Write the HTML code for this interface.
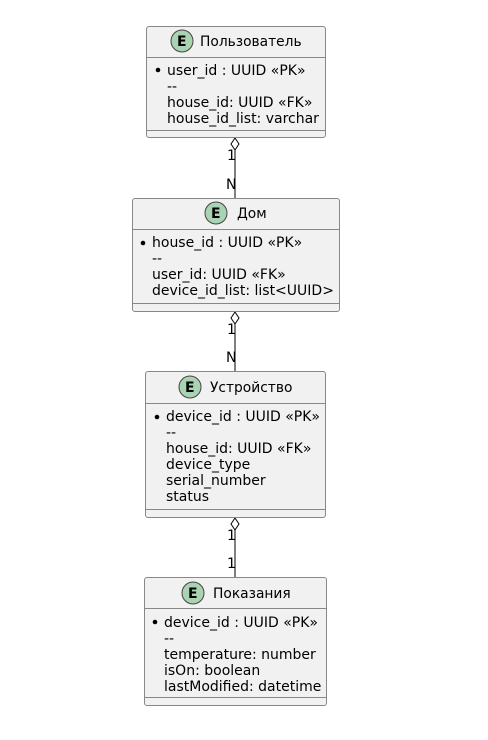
<!DOCTYPE html>
<html><head><meta charset="utf-8"><style>
html,body{margin:0;padding:0;background:#fff;}
svg{display:block;}
text{font-family:"DejaVu Sans","Liberation Sans",sans-serif;font-size:14px;fill:#000;}
.t{font-size:13.8px;}
.e{font-weight:bold;font-size:14px;}
</style></head><body>
<svg width="488" height="740" viewBox="0 0 488 740" xmlns="http://www.w3.org/2000/svg">
<rect width="488" height="740" fill="#fff"/>
<g stroke="#000" stroke-width="1">
<line x1="235" y1="150" x2="235" y2="198"/>
<line x1="235" y1="324" x2="235" y2="372"/>
<line x1="235" y1="530" x2="235" y2="578"/>
</g>
<g fill="#fff" stroke="#000" stroke-width="1">
<polygon points="235,138 239,144 235,150 231,144"/>
<polygon points="235,312 239,318 235,324 231,318"/>
<polygon points="235,518 239,524 235,530 231,524"/>
</g>
<text x="227" y="160">1</text><text x="226" y="189">N</text>
<text x="227" y="334">1</text><text x="226" y="362">N</text>
<text x="227" y="540">1</text><text x="227" y="568">1</text>

<g fill="#f1f1f1" stroke="#888" stroke-width="1">
<rect x="146.5" y="26.5" width="179" height="111" rx="2.5"/>
<rect x="132.5" y="198.5" width="207" height="113" rx="2.5"/>
<rect x="145.5" y="371.5" width="180" height="146" rx="2.5"/>
<rect x="144.5" y="577.5" width="182" height="128" rx="2.5"/>
</g>
<g stroke="#888" stroke-width="1">
<line x1="146.5" y1="57.5" x2="325.5" y2="57.5"/><line x1="146.5" y1="130.5" x2="325.5" y2="130.5"/>
<line x1="132.5" y1="229.5" x2="339.5" y2="229.5"/><line x1="132.5" y1="303.5" x2="339.5" y2="303.5"/>
<line x1="145.5" y1="403.5" x2="325.5" y2="403.5"/><line x1="145.5" y1="509.5" x2="325.5" y2="509.5"/>
<line x1="144.5" y1="608.5" x2="326.5" y2="608.5"/><line x1="144.5" y1="697.5" x2="326.5" y2="697.5"/>
</g>
<g fill="#a9d3b2" stroke="#444" stroke-width="1">
<circle cx="182" cy="41" r="11"/>
<circle cx="216" cy="213" r="11"/>
<circle cx="190" cy="387" r="11"/>
<circle cx="193" cy="593" r="11"/>
</g>
<text class="e" x="177" y="46">E</text>
<text class="e" x="211" y="218">E</text>
<text class="e" x="185" y="392">E</text>
<text class="e" x="188" y="598">E</text>

<text class="t" x="200" y="46">Пользователь</text>
<text class="t" x="237" y="218">Дом</text>
<text class="t" x="210" y="392">Устройство</text>
<text class="t" x="213" y="598">Показания</text>

<g fill="#000">
<circle cx="158" cy="70" r="2.3"/>
<circle cx="143" cy="243" r="2.3"/>
<circle cx="157" cy="417" r="2.3"/>
<circle cx="155" cy="622" r="2.3"/>
</g>
<text x="167" y="75">user_id : UUID «PK»</text>
<text x="167" y="91">--</text>
<text x="167" y="107">house_id: UUID «FK»</text>
<text x="167" y="123">house_id_list: varchar</text>

<text x="152" y="247">house_id : UUID «PK»</text>
<text x="152" y="263">--</text>
<text x="152" y="279">user_id: UUID «FK»</text>
<text x="152" y="295">device_id_list: list&lt;UUID&gt;</text>

<text x="166" y="421">device_id : UUID «PK»</text>
<text x="166" y="437">--</text>
<text x="166" y="453">house_id: UUID «FK»</text>
<text x="166" y="469">device_type</text>
<text x="166" y="485">serial_number</text>
<text x="166" y="501">status</text>

<text x="164" y="627">device_id : UUID «PK»</text>
<text x="164" y="643">--</text>
<text x="164" y="659">temperature: number</text>
<text x="164" y="675">isOn: boolean</text>
<text x="164" y="691">lastModified: datetime</text>
</svg>
</body></html>
